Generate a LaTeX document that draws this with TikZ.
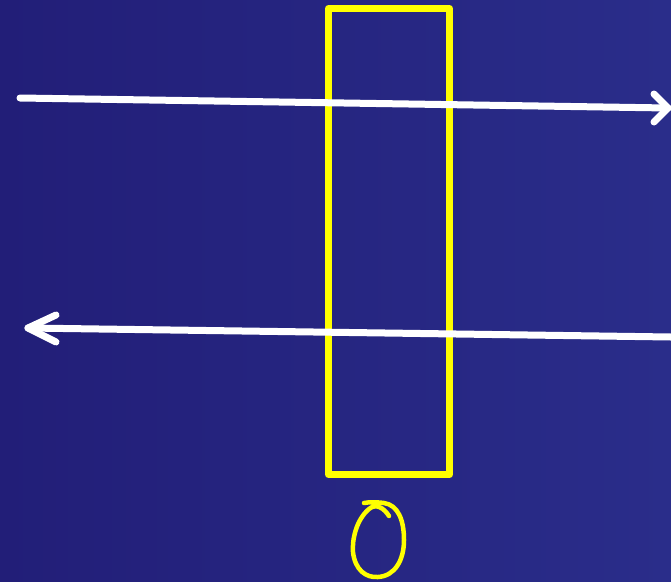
\documentclass[tikz,border=0pt]{standalone}
\usetikzlibrary{calc}
\definecolor{bgL}{RGB}{34,30,120}
\definecolor{bgR}{RGB}{42,45,138}
\definecolor{yel}{RGB}{255,255,0}
\tikzset{
  whiteline/.style={draw=white,line width=7pt,line cap=round,line join=round},
  yelbox/.style={draw=yel,line width=7pt,line join=round},
  yelpen/.style={draw=yel,line width=4.5pt,line cap=round,line join=round}
}
\begin{document}
\begin{tikzpicture}[x=1pt,y=-1pt]
\shade[left color=bgL,right color=bgR] (0,0) rectangle (671,581);
\useasboundingbox (0,0) rectangle (671,581);
% box
\coordinate (b1) at (328.5,8.5);
\coordinate (b2) at (449.5,474.5);
\draw[yelbox] (b1) rectangle (b2);
% top arrow
\coordinate (t0) at (20,98);
\coordinate (t1) at (668,108);
\coordinate (ta) at (654,94);
\coordinate (tb) at (654,122);
\draw[whiteline] (t0) -- (t1);
\draw[whiteline] (ta) -- (t1) -- (tb);
% bottom arrow
\coordinate (u0) at (671,337);
\coordinate (u1) at (28,328);
\coordinate (ua) at (56,315);
\coordinate (ub) at (56,342);
\draw[whiteline] (u0) -- (u1);
\draw[whiteline] (ua) -- (u1) -- (ub);
% hand-drawn zero
\draw[yelpen] (389,516) .. controls (384,508) and (376,503) .. (369,509)
  .. controls (356,520) and (352,540) .. (353,552)
  .. controls (355,570) and (366,578) .. (378,577)
  .. controls (395,576) and (404,560) .. (404,540)
  .. controls (404,520) and (398,505) .. (384,503)
  .. controls (376,502) and (369,502) .. (364,503);
\end{tikzpicture}
\end{document}
